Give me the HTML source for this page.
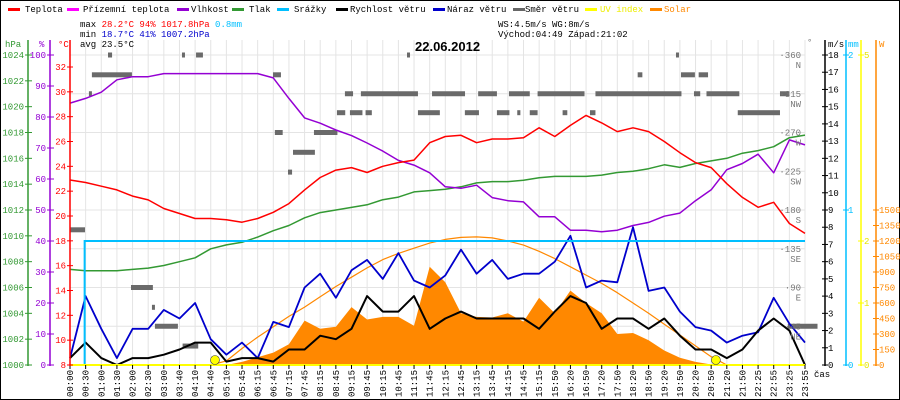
<!DOCTYPE html>
<html><head><meta charset="utf-8"><style>
html,body{margin:0;padding:0;background:#fff}
svg{display:block}
text{font-family:"Liberation Mono",monospace;font-size:9px}
</style></head><body>
<svg id="c" width="900" height="400" viewBox="0 0 900 400" xmlns="http://www.w3.org/2000/svg">
<rect x="0.5" y="0.5" width="899" height="399" fill="#fff" stroke="#000"/>
<g id="grid"></g>
<g id="plot"></g>
<g id="axes"></g>
<g id="legend">
<g><rect x="8" y="8" width="12" height="3" fill="#f00"/><text x="25" y="12">Teplota</text></g>
<g><rect x="67" y="8" width="12" height="3" fill="#f0f"/><text x="83" y="12">Přízemní teplota</text></g>
<g><rect x="177" y="8" width="12" height="3" fill="#9400d3"/><text x="191" y="12">Vlhkost</text></g>
<g><rect x="232" y="8" width="12" height="3" fill="#339933"/><text x="249" y="12">Tlak</text></g>
<g><rect x="277" y="8" width="12" height="3" fill="#00bfff"/><text x="294" y="12">Srážky</text></g>
<g><rect x="336" y="8" width="12" height="3" fill="#000"/><text x="350" y="12">Rychlost větru</text></g>
<g><rect x="433" y="8" width="12" height="3" fill="#0000cc"/><text x="447" y="12">Náraz větru</text></g>
<g><rect x="513" y="8" width="12" height="3" fill="#666"/><text x="525" y="12">Směr větru</text></g>
<g><rect x="585" y="8" width="12" height="3" fill="#ff0"/><text x="600" y="12" fill="#ee0">UV index</text></g>
<g><rect x="650" y="8" width="12" height="3" fill="#f80"/><text x="664" y="12" fill="#f80">Solar</text></g>
</g>
<g>
<text x="80" y="27">max <tspan fill="#f00">28.2°C  94%  1017.8hPa</tspan>   <tspan fill="#00bfff">0.8mm</tspan></text>
<text x="80" y="37">min <tspan fill="#00c">18.7°C  41%  1007.2hPa</tspan></text>
<text x="80" y="47">avg 23.5°C</text>
<text x="498" y="27">WS:4.5m/s    WG:8m/s</text>
<text x="498" y="37">Východ:04:49 Západ:21:02</text>
</g>
<text x="415" y="51" style="font-size:13px;font-weight:bold;font-family:'Liberation Sans',sans-serif">22.06.2012</text>
</svg>
<script>
const times=["00:00","00:30","01:00","01:30","02:00","02:30","03:00","03:40","04:10","04:40","05:10","05:45","06:15","06:45","07:15","07:45","08:15","08:45","09:15","09:45","10:15","10:45","11:15","11:45","12:15","12:45","13:15","13:45","14:15","14:45","15:15","15:50","16:20","16:50","17:20","17:50","18:20","18:50","19:20","19:50","20:20","20:50","21:20","21:50","22:25","22:55","23:25","23:55"];
const temp=[22.9,22.7,22.4,22.1,21.6,21.3,20.6,20.2,19.8,19.8,19.7,19.5,19.8,20.3,21.0,22.1,23.1,23.7,23.9,23.5,24.0,24.3,24.5,25.9,26.4,26.5,25.9,26.2,26.2,26.3,27.1,26.4,27.3,28.1,27.5,26.8,27.1,26.8,26.0,25.1,24.3,23.9,22.6,21.5,20.7,21.1,19.4,18.6];
const hum=[84.5,86,88,92,93,93,94,94,94,94,94,94,94,92.6,86,79.7,78,75.8,74,71.6,69,66,64.5,62,57.5,57,58,54,53,52.6,47.8,47.8,43.5,43.5,43,43.5,45,46,48,49,53,56.5,63,65,68,62,72.6,71];
const pres=[1007.4,1007.3,1007.3,1007.3,1007.4,1007.5,1007.7,1008,1008.3,1009,1009.3,1009.5,1009.9,1010.4,1010.8,1011.4,1011.8,1012,1012.2,1012.4,1012.8,1013,1013.4,1013.5,1013.6,1013.8,1014.1,1014.2,1014.2,1014.3,1014.5,1014.6,1014.6,1014.6,1014.7,1014.9,1015,1015.2,1015.5,1015.3,1015.6,1015.8,1016,1016.4,1016.6,1016.9,1017.6,1017.8];
const gust=[0.4,4,2.1,0.4,2.1,2.1,3.2,2.7,3.6,1.5,0.6,1.3,0.4,2.5,2.2,4.5,5.3,3.9,5.5,6.1,5.0,6.5,4.9,4.5,5.2,6.7,5.3,6.1,5.0,5.3,5.3,6.0,7.5,4.5,4.9,4.8,8,4.3,4.5,3.1,2.2,2.0,1.3,1.7,1.9,3.9,2.4,1.3];
const wind=[0.4,1.3,0.4,0,0.4,0.4,0.6,0.9,1.3,1.3,0.2,0.4,0.4,0.2,0.9,0.9,1.7,1.5,2.1,4.0,3.1,3.1,4.0,2.1,2.7,3.1,2.7,2.7,2.7,2.7,2.1,3.1,4.0,3.6,2.1,2.7,2.7,2.1,2.7,1.7,0.9,0.9,0.4,0.9,2.0,2.7,2.0,0];
const solar=[0,0,0,0,0,0,0,0,0,0,0,30,75,120,200,430,350,370,560,440,465,465,380,950,800,500,465,460,500,420,650,500,720,600,500,300,310,240,140,70,30,5,0,0,0,0,0,0];
const solarTheo=[0,0,0,0,0,0,0,0,0,0,40,160,270,370,470,560,660,760,850,940,1020,1080,1130,1180,1215,1235,1240,1230,1200,1160,1100,1030,950,870,790,700,600,500,395,290,185,80,0,0,0,0,0,0];
const rain=[0,0.8,0.8,0.8,0.8,0.8,0.8,0.8,0.8,0.8,0.8,0.8,0.8,0.8,0.8,0.8,0.8,0.8,0.8,0.8,0.8,0.8,0.8,0.8,0.8,0.8,0.8,0.8,0.8,0.8,0.8,0.8,0.8,0.8,0.8,0.8,0.8,0.8,0.8,0.8,0.8,0.8,0.8,0.8,0.8,0.8,0.8,0.8];
const dirStart=[2.43,7.16,8.06,21.55,38.75,1.4,12.98,36.3,39.07,40.2,1.21,17.58,18.6,23.15,24.3,26.1,28.07,29.9,33.6,39.9,40.7,45.4,17.07,17.9,18.9,22.25,25.25,27.3,28.6,29.4,31.5,33.25,42.7,13.1,15.6,14.26,13.94,0,3.9,5.24,5.43,7.2,45.9];
const dirEnd=[2.69,7.35,8.5,21.74,38.94,3.96,13.49,36.6,39.96,40.8,1.4,18.1,22.25,24.3,25.26,27.3,29.4,32.9,39.1,40.3,42.8,46.0,17.6,18.7,19.3,23.65,26.15,28.1,28.8,29.9,31.8,33.6,45.4,13.6,17.1,15.66,14.2,0.96,5.3,5.43,6.9,8.2,47.8];
const dirDeg=[360,360,360,360,360,337,337,337,337,337,315,315,315,315,315,315,315,315,315,315,315,315,293,293,293,293,293,293,293,293,293,293,293,270,270,247,224,157,90,67,45,22,45];
const sunEvents=[9.27,41.3];
const tempTicks=[8,10,12,14,16,18,20,22,24,26,28,30,32];
const presTicks=[1000,1002,1004,1006,1008,1010,1012,1014,1016,1018,1020,1022,1024];
const humTicks=[0,10,20,30,40,50,60,70,80,90,100];
const windTicks=[0,1,2,3,4,5,6,7,8,9,10,11,12,13,14,15,16,17,18];
const dirTicks=[45,90,135,180,225,270,315,360];
const dirNames=["NE","E","SE","S","SW","W","NW","N"];
const solarTicks=[0,150,300,450,600,750,900,1050,1200,1350,1500];
const rainTicks=[0,1,2];
const uvTicks=[0,1,2,5];

const NS="http://www.w3.org/2000/svg";
const X0=70,X1=805,YB=365,YT=55;
const xs=i=>X0+i*(X1-X0)/(times.length-1);
const yT=v=>YB-(v-8)*(YB-YT+12.4*0)/(24)*((YB-67)/(YB-YT));
const yTemp=v=>YB-(v-8)*(YB-67)/24;
const yP=v=>YB-(v-1000)*(YB-YT)/24;
const yH=v=>YB-v*(YB-YT)/100;
const yW=v=>YB-v*(YB-YT)/18;
const yD=v=>YB-v*(YB-YT)/360;
const yS=v=>YB-v*(YB-210)/1500;
const yR=v=>YB-v*(YB-YT)/2;
const yU=v=>YB-v*(YB-YT)/5;
function mk(tag,parent,attrs,txt){const e=document.createElementNS(NS,tag);for(const k in attrs)e.setAttribute(k,attrs[k]);if(txt!==undefined)e.textContent=txt;document.getElementById(parent).appendChild(e);return e;}
function pts(arr,fy){return arr.map((v,i)=>xs(i).toFixed(1)+","+fy(v).toFixed(1)).join(" ");}

// grid
times.forEach((t,i)=>{
  const g=mk("line","grid",{x1:xs(i),x2:xs(i),y1:40,y2:YB,stroke:"#e4e4e4"});
  
  
  const tk=mk("line","axes",{x1:xs(i),x2:xs(i),y1:YB,y2:YB+4,stroke:"#000"});
  
  
  const lb=mk("text","axes",{transform:"translate("+(xs(i)+3)+","+(YB+5)+") rotate(-90)","text-anchor":"end"},t);
  
  
});
dirTicks.forEach((d,k)=>{
  const g=mk("line","grid",{x1:X0,x2:X1,y1:yD(d),y2:yD(d),stroke:"#e4e4e4"});
  
  
  const l=mk("text","axes",{x:801,y:yD(d)+3,"text-anchor":"end",fill:"#777"},"·"+d);
  
  
  const n=mk("text","axes",{x:801,y:yD(d)+13,"text-anchor":"end",fill:"#777"},dirNames[k]);
  
  
});

// solar area
const sa=mk("polygon","plot",{points:xs(0)+","+YB+" "+pts(solar,yS)+" "+xs(solar.length-1)+","+YB,fill:"#ff8800"});


// wind direction
dirDeg.forEach((d,k)=>{
  const r=mk("rect","plot",{x:xs(dirStart[k]),y:yD(d)-2.5,width:Math.max(3,xs(dirEnd[k])-xs(dirStart[k])),height:5,fill:"#6a6a6a"});
  
  
});
// lines
function line(arr,fy,col,name,w){const p=mk("polyline","plot",{points:pts(arr,fy),fill:"none",stroke:col,"stroke-width":w||1.5,"stroke-linejoin":"round"});return p;}
const pl1=line(pres,yP,"#339933","pressure-line");
const pl2=line(hum,yH,"#9400d3","humidity-line");
const pl3=line(temp,yTemp,"#f00","temperature-line");
const pl4=line(solarTheo,yS,"#ff8800","solar-theoretical-line",1.2);
const pl5=line(gust,yW,"#0000cc","wind-gust-line",1.8);
const pl6=line(wind,yW,"#000","wind-speed-line",2);
// rain step
let rp=xs(0)+","+yR(rain[0]);
rain.forEach((v,i)=>{if(i>0){rp+=" "+(xs(i)-1)+","+yR(rain[i-1])+" "+(xs(i)-1)+","+yR(v);}});
rp+=" "+X1+","+yR(rain[rain.length-1]);
const rl=mk("polyline","plot",{points:rp,fill:"none",stroke:"#00bfff","stroke-width":2});


// UV baseline
const uv=mk("line","plot",{x1:X0,x2:X1,y1:YB,y2:YB,stroke:"#ff0","stroke-width":2});


sunEvents.forEach(s=>{
  const c=mk("circle","plot",{cx:xs(s),cy:YB-5,r:4.5,fill:"#ff0",stroke:"#333","stroke-width":0.6});
  
  
});

// left axes
function vaxis(x,col,name){const a=mk("line","axes",{x1:x,x2:x,y1:40,y2:YB+1,stroke:col,"stroke-width":1.5});return a;}
const ap=vaxis(28,"#339933");
const ah=vaxis(50,"#9400d3");
const at=vaxis(70,"#f00");
presTicks.forEach(v=>{const t=mk("text","axes",{x:24,y:yP(v)+3,"text-anchor":"end",fill:"#339933"},v);
 const k=mk("line","axes",{x1:25,x2:32,y1:yP(v),y2:yP(v),stroke:"#339933"});});
humTicks.forEach(v=>{const t=mk("text","axes",{x:46,y:yH(v)+3,"text-anchor":"end",fill:"#9400d3"},v);
 const k=mk("line","axes",{x1:47,x2:54,y1:yH(v),y2:yH(v),stroke:"#9400d3"});});
tempTicks.forEach(v=>{const t=mk("text","axes",{x:66,y:yTemp(v)+3,"text-anchor":"end",fill:"#f00"},v);
 const k=mk("line","axes",{x1:67,x2:73,y1:yTemp(v),y2:yTemp(v),stroke:"#f00"});});
const u1=mk("text","axes",{x:5,y:47,fill:"#339933"},"hPa");
const u2=mk("text","axes",{x:39,y:47,fill:"#9400d3"},"%");
const u3=mk("text","axes",{x:58,y:47,fill:"#f00"},"°C");

// right axes
const aw=vaxis(825,"#000");
const ar=vaxis(846,"#00bfff");
const au=vaxis(861,"#ff0");
const as=vaxis(876,"#ff8800");
windTicks.forEach(v=>{const t=mk("text","axes",{x:828,y:yW(v)+3},v);
 const k=mk("line","axes",{x1:822,x2:828,y1:yW(v),y2:yW(v),stroke:"#000"});});
rainTicks.forEach(v=>{const t=mk("text","axes",{x:848,y:yR(v)+3,fill:"#00bfff"},v);
 const k=mk("line","axes",{x1:843,x2:849,y1:yR(v),y2:yR(v),stroke:"#00bfff"});});
uvTicks.forEach(v=>{const t=mk("text","axes",{x:864,y:yU(v)+3,fill:"#e6e600"},v);
 const k=mk("line","axes",{x1:858,x2:864,y1:yU(v),y2:yU(v),stroke:"#ff0"});});
solarTicks.forEach(v=>{const t=mk("text","axes",{x:879,y:yS(v)+3,fill:"#ff8800"},v);
 const k=mk("line","axes",{x1:873,x2:879,y1:yS(v),y2:yS(v),stroke:"#ff8800"});});
const r1=mk("text","axes",{x:807,y:45,fill:"#777"},"°");
const r2=mk("text","axes",{x:828,y:47},"m/s");
const r3=mk("text","axes",{x:848,y:47,fill:"#00bfff"},"mm");
const r4=mk("text","axes",{x:879,y:47,fill:"#ff8800"},"W");
const r5=mk("text","axes",{x:814,y:377},"čas");
</script>
</body></html>
